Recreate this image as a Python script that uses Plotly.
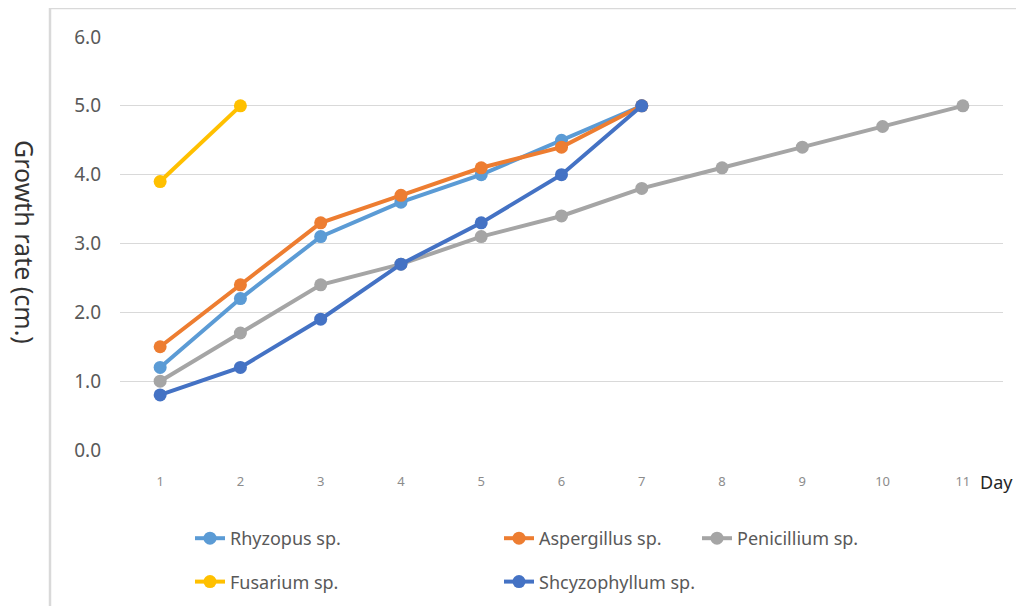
import plotly.graph_objects as go

days = list(range(1, 12))
day_labels = [str(d) for d in days]

rhyzopus = [1.2, 2.2, 3.1, 3.6, 4.0, 4.5, 5.0]
aspergillus = [1.5, 2.4, 3.3, 3.7, 4.1, 4.4, 5.0]
penicillium = [1.0, 1.7, 2.4, 2.7, 3.1, 3.4, 3.8, 4.1, 4.4, 4.7, 5.0]
fusarium = [3.9, 5.0]
shcyzophyllum = [0.8, 1.2, 1.9, 2.7, 3.3, 4.0, 5.0]

series = [
    ("Rhyzopus sp.", rhyzopus, "#5B9BD5", "legend"),
    ("Aspergillus sp.", aspergillus, "#ED7D31", "legend2"),
    ("Penicillium sp.", penicillium, "#A5A5A5", "legend3"),
    ("Fusarium sp.", fusarium, "#FFC000", "legend"),
    ("Shcyzophyllum sp.", shcyzophyllum, "#4472C4", "legend2"),
]

fig = go.Figure()
for name, vals, color, lg in series:
    fig.add_trace(go.Scatter(
        x=days[:len(vals)], y=vals, name=name, mode="lines+markers",
        line=dict(color=color, width=4),
        marker=dict(color=color, size=13),
        legend=lg, legendgroup=name,
    ))

# page body has an 8px margin; keep the figure small enough to avoid scrollbars
OFF = 8
W, H = 1024 - 2 * OFF, 614 - 2 * OFF
PX0, PX1, PY0, PY1 = 120, 1003, 37, 450  # plot area in screen px
L, R, T, B = PX0 - OFF, (W + OFF) - PX1, PY0 - OFF, (H + OFF) - PY1
pw, ph = PX1 - PX0, PY1 - PY0

def px(x):
    return (x - PX0) / pw

def py(y):
    return 1 - (y - PY0) / ph

legfont = dict(family="Noto Sans", size=18, color="#595959")
def leg(xpx):
    return dict(x=px(xpx), y=py(520), xanchor="left", yanchor="top",
                orientation="v", font=legfont, bgcolor="rgba(0,0,0,0)",
                tracegroupgap=17, itemwidth=30)

fig.update_layout(
    width=W, height=H,
    margin=dict(l=L, r=R, t=T, b=B, autoexpand=False),
    plot_bgcolor="white", paper_bgcolor="white",
    showlegend=True,
    legend=leg(190), legend2=leg(499), legend3=leg(697),
    xaxis=dict(
        range=[0.5, 11.5], tickmode="array", tickvals=days, ticktext=day_labels,
        showgrid=False, zeroline=False, showline=False, automargin=False,
        tickfont=dict(family="Noto Sans", size=13, color="#8c8c8c"),
        ticklabelstandoff=22,
    ),
    yaxis=dict(
        range=[0, 6], tickmode="array", tickvals=[0, 1, 2, 3, 4, 5, 6],
        ticktext=["0.0", "1.0", "2.0", "3.0", "4.0", "5.0", "6.0"],
        showgrid=True, gridcolor="#d9d9d9", gridwidth=1, zeroline=False, showline=False,
        automargin=False,
        tickfont=dict(family="Noto Sans", size=19, color="#595959"),
        ticklabelstandoff=18,
    ),
    annotations=[
        dict(text="Growth rate (cm.)", textangle=90, xref="paper", yref="paper",
             x=px(25), y=py(242), xanchor="center", yanchor="middle",
             showarrow=False, font=dict(family="Noto Sans", size=25, color="#333333")),
        dict(text="Day", xref="paper", yref="paper",
             x=px(996), y=py(482), xanchor="center", yanchor="middle",
             showarrow=False, font=dict(family="Noto Sans", size=18, color="#262626")),
    ],
    shapes=[
        dict(type="rect", xref="paper", yref="paper",
             x0=px(50), x1=px(1060), y0=py(660), y1=py(8),
             line=dict(color="#d9d9d9", width=2.5), fillcolor="rgba(0,0,0,0)", layer="below"),
    ],
)

fig.write_html("out.html")
